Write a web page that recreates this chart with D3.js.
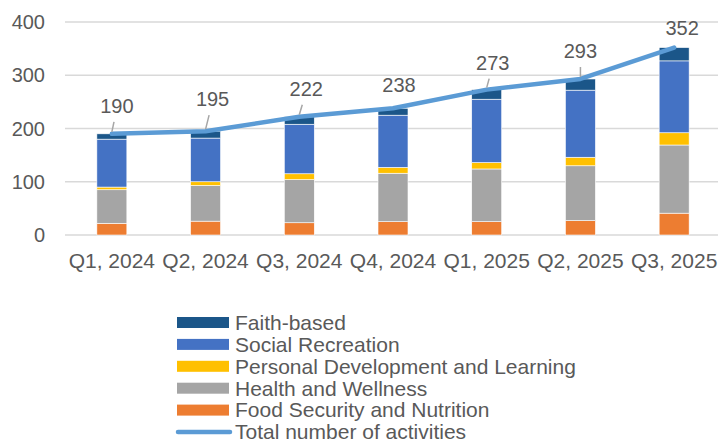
<!DOCTYPE html>
<html>
<head>
<meta charset="utf-8">
<script src="https://cdn.jsdelivr.net/npm/d3@7"></script>
<style>
  body { margin: 0; background: #fff; }
  svg text { font-family: "Liberation Sans", Arial, sans-serif; fill: #595959; }
</style>
</head>
<body>
<svg width="718" height="442"></svg>
<script>
const quarters = ["Q1, 2024", "Q2, 2024", "Q3, 2024", "Q4, 2024", "Q1, 2025", "Q2, 2025", "Q3, 2025"];
const foodSecurity = [22, 26, 23, 25, 25, 27, 41];
const healthWellness = [63, 67, 81, 91, 99, 103, 128];
const personalDev = [5, 7, 11, 11, 12, 16, 23];
const socialRecreation = [90, 82, 93, 98, 119, 126, 135];
const faithBased = [10, 13, 14, 13, 18, 21, 25];
const totals = [190, 195, 222, 238, 273, 293, 352];
const yTicks = [0, 100, 200, 300, 400];

// label placement relative to the line point (px)
const labelOffsets = [[5, -28], [7, -32], [7, -28], [6, -23], [6, -27], [0, -28], [8, -20]];

const series = [
  { key: "food", name: "Food Security and Nutrition", values: foodSecurity, color: "#ED7D31" },
  { key: "health", name: "Health and Wellness", values: healthWellness, color: "#A5A5A5" },
  { key: "pdl", name: "Personal Development and Learning", values: personalDev, color: "#FFC000" },
  { key: "social", name: "Social Recreation", values: socialRecreation, color: "#4472C4" },
  { key: "faith", name: "Faith-based", values: faithBased, color: "#1B5689" }
];

const svg = d3.select("svg");
const margin = { left: 65, right: -3, top: 22, bottom: 207 };
const width = +svg.attr("width");
const height = +svg.attr("height");

const x = d3.scaleBand()
  .domain(quarters)
  .range([margin.left, width - margin.right])
  .paddingInner(0.68)
  .paddingOuter(0.34);

const y = d3.scaleLinear()
  .domain([0, 400])
  .range([height - margin.bottom, margin.top]);

// gridlines
svg.append("g")
  .selectAll("line")
  .data(yTicks)
  .enter()
  .append("line")
  .attr("x1", margin.left)
  .attr("x2", width)
  .attr("y1", d => y(d))
  .attr("y2", d => y(d))
  .attr("stroke", "#D9D9D9")
  .attr("stroke-width", 1.5);

// y tick labels
svg.append("g")
  .selectAll("text")
  .data(yTicks)
  .enter()
  .append("text")
  .attr("x", 45)
  .attr("y", d => y(d))
  .attr("dy", "0.35em")
  .attr("text-anchor", "end")
  .style("font-size", "20px")
  .text(d => d);

// x labels
svg.append("g")
  .selectAll("text")
  .data(quarters)
  .enter()
  .append("text")
  .attr("x", d => x(d) + x.bandwidth() / 2)
  .attr("y", 268)
  .attr("text-anchor", "middle")
  .style("font-size", "21px")
  .text(d => d);

// stacked bars
const rows = quarters.map((q, i) => {
  const r = { quarter: q };
  series.forEach(s => { r[s.key] = s.values[i]; });
  return r;
});
const stacked = d3.stack().keys(series.map(s => s.key))(rows);

svg.append("g")
  .selectAll("g")
  .data(stacked)
  .enter()
  .append("g")
  .attr("fill", (d, i) => series[i].color)
  .selectAll("rect")
  .data(d => d)
  .enter()
  .append("rect")
  .attr("x", d => x(d.data.quarter))
  .attr("width", x.bandwidth())
  .attr("y", d => y(d[1]))
  .attr("height", d => y(d[0]) - y(d[1]))
  .attr("stroke", "#fff")
  .attr("stroke-width", 0.6);

// total line
const line = d3.line()
  .x((d, i) => x(quarters[i]) + x.bandwidth() / 2)
  .y(d => y(d));

svg.append("path")
  .datum(totals)
  .attr("d", line)
  .attr("fill", "none")
  .attr("stroke", "#5B9BD5")
  .attr("stroke-width", 4.5)
  .attr("stroke-linejoin", "round")
  .attr("stroke-linecap", "round");

// data labels with leader lines
totals.forEach((v, i) => {
  const px = x(quarters[i]) + x.bandwidth() / 2;
  const py = y(v);
  const [dx, dy] = labelOffsets[i];
  const cx = px + dx, cy = py + dy;
  if (Math.abs(dy) >= 26) {
    const endY = cy + 16;
    const t = (py - endY) / -dy;
    svg.append("line")
      .attr("x1", px)
      .attr("y1", py - 2)
      .attr("x2", px + dx * t)
      .attr("y2", endY)
      .attr("stroke", "#A6A6A6")
      .attr("stroke-width", 1.5);
  }
  svg.append("text")
    .attr("x", cx)
    .attr("y", cy)
    .attr("dy", "0.35em")
    .attr("text-anchor", "middle")
    .style("font-size", "20px")
    .text(v);
});

// legend
const legendItems = series.slice().reverse().map(s => ({ name: s.name, color: s.color, type: "bar" }))
  .concat([{ name: "Total number of activities", color: "#5B9BD5", type: "line" }]);

const legend = svg.append("g")
  .selectAll("g")
  .data(legendItems)
  .enter()
  .append("g")
  .attr("transform", (d, i) => `translate(177, ${322.5 + i * 21.9})`);

legend.filter(d => d.type === "bar")
  .append("rect")
  .attr("x", 0)
  .attr("y", -5.5)
  .attr("width", 52)
  .attr("height", 11)
  .attr("fill", d => d.color);

legend.filter(d => d.type === "line")
  .append("line")
  .attr("x1", 1)
  .attr("x2", 53)
  .attr("y1", 0)
  .attr("y2", 0)
  .attr("stroke", d => d.color)
  .attr("stroke-width", 4.5)
  .attr("stroke-linecap", "round");

legend.append("text")
  .attr("x", 58)
  .attr("y", 0)
  .attr("dy", "0.35em")
  .style("font-size", "21px")
  .text(d => d.name);
</script>
</body>
</html>
